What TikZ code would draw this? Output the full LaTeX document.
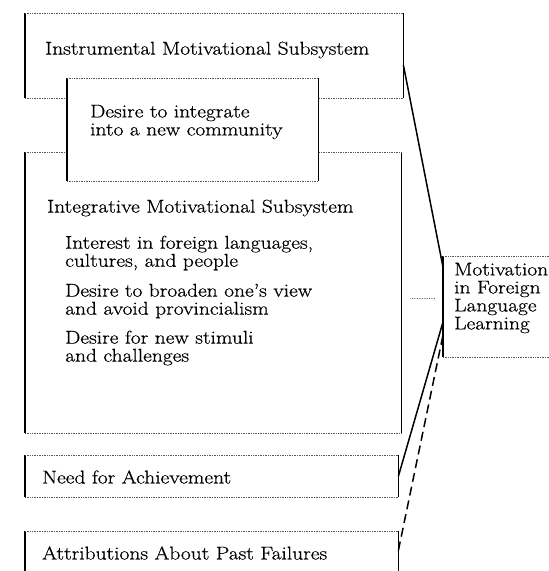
\documentclass[tikz,border=0pt]{standalone}
\usepackage{fontspec}
\setmainfont{Latin Modern Roman}[FakeStretch=1.16, FakeBold=0.6]
\usepackage{tikz}
\usetikzlibrary{calc}

\tikzset{
  panel/.style={draw=none, rectangle, inner sep=0pt, anchor=north west},
  side/.style={line width=1.6pt},
  rim/.style={line width=0.7pt, densely dotted, black!65},
  boxtext/.style={anchor=west, inner sep=0pt, align=left, font=\fontsize{18.5}{18}\selectfont},
  link/.style={line width=1.5pt},
}
\newcommand{\boxsides}[1]{%
  \draw[side] (#1.north west) -- (#1.south west);
  \draw[side] (#1.north east) -- (#1.south east);
  \draw[rim] (#1.north west) -- (#1.north east);
  \draw[rim] (#1.south west) -- (#1.south east);}

\begin{document}
\begin{tikzpicture}[x=1pt,y=-1pt]
			\clip (0,0) rectangle (549,571);
			
			\node[panel, minimum width=378pt, minimum height=85pt] (instr) at (25,13) {};
			\node[panel, minimum width=376pt, minimum height=281pt] (integ) at (25,152) {};
			\node[panel, minimum width=373pt, minimum height=42pt] (need) at (25,455) {};
			\node[panel, minimum width=373pt, minimum height=48pt] (attr) at (25,531) {};
			\node[panel, minimum width=120pt, minimum height=101pt] (motiv) at (443,256) {};
			\boxsides{instr}
			\boxsides{integ}
			\boxsides{need}
			\boxsides{attr}
			\boxsides{motiv}
			
			\node[panel, fill=white, minimum width=251pt, minimum height=103pt] (desire) at (67,78) {};
			\boxsides{desire}
			
			\node[boxtext] (instrtext) at (45,50) {Instrumental Motivational Subsystem};
			\node[boxtext] (desiretext) at (90,122) {Desire to integrate\\into a new community};
			\node[boxtext] (integtext) at (47,208) {Integrative Motivational Subsystem};
			\node[boxtext] (interest) at (65,253) {Interest in foreign languages,\\cultures, and people};
			\node[boxtext] (broaden) at (65,301) {Desire to broaden one's view\\and avoid provincialism};
			\node[boxtext] (stimuli) at (65,348) {Desire for new stimuli\\and challenges};
			\node[boxtext] (needtext) at (42,477) {Need for Achievement};
			\node[boxtext] (attrtext) at (42,553) {Attributions About Past Failures};
			\node[boxtext] (motivtext) at (454,298) {Motivation\\in Foreign\\Language\\Learning};
			
			\draw[link] ($(instr.north east)!0.61!(instr.south east)$) -- ($(motiv.north west)!0.11!(motiv.south west)$);
			\draw[rim, shorten <=9pt, shorten >=8pt] ($(integ.north east)!0.52!(integ.south east)$) -- ($(motiv.north west)!0.42!(motiv.south west)$);
			\draw[link] (need.east) -- ($(motiv.north west)!0.65!(motiv.south west)$);
			\draw[link, dash pattern=on 9pt off 5pt] ($(attr.north east)!0.4!(attr.south east)$) -- ($(motiv.north west)!0.78!(motiv.south west)$);
		\end{tikzpicture}
\end{document}
